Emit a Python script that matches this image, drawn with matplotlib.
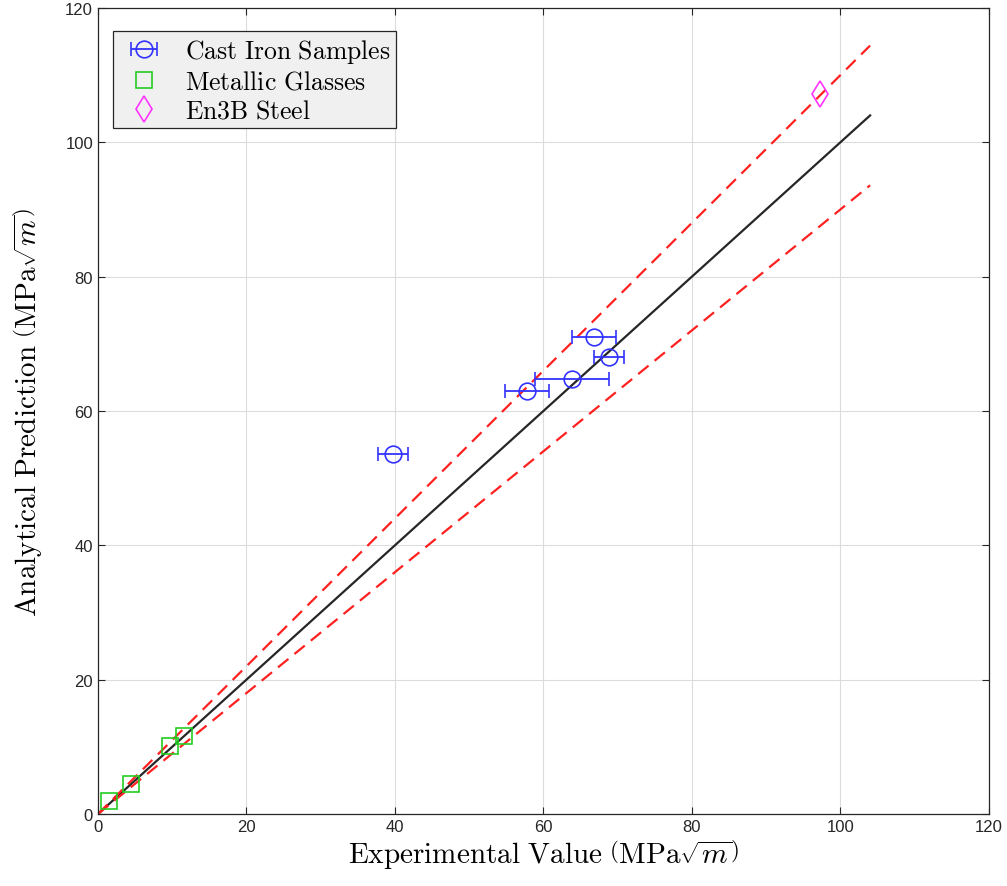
import matplotlib
matplotlib.use("Agg")
import matplotlib.pyplot as plt
import numpy as np

plt.rcParams['mathtext.fontset'] = 'cm'
plt.rcParams['font.family'] = ['Liberation Sans', 'DejaVu Sans']

# Data
cast_x = [39.7, 57.8, 63.8, 66.8, 68.8]
cast_y = [53.6, 63.0, 64.8, 71.0, 68.0]
cast_xerr = [2.0, 3.0, 5.0, 3.0, 2.0]
glass_x = [1.5, 4.4, 9.7, 11.6]
glass_y = [1.9, 4.5, 10.1, 11.6]
steel_x = [97.2]
steel_y = [107.2]
line_max = 104
band = 0.10

fig = plt.figure(figsize=(10.07, 8.87), dpi=100)
ax = fig.add_axes([0.0973, 0.0812, 0.982 - 0.0973, 0.9899 - 0.0812])

xl = np.array([0, line_max])
ax.plot(xl, xl, color='#262626', lw=1.6, zorder=2)
ax.plot(xl, (1 + band) * xl, color='#ff2020', lw=1.6, ls=(0, (6, 3.5)), zorder=2)
ax.plot(xl, (1 - band) * xl, color='#ff2020', lw=1.6, ls=(0, (6, 3.5)), zorder=2)

h1 = ax.errorbar(cast_x, cast_y, xerr=cast_xerr, fmt='o', color='#3333ff', mfc='none',
                 ms=12, mew=1.2, elinewidth=1.3, capsize=5, capthick=1.3, zorder=3)
h2, = ax.plot(glass_x, glass_y, 's', color='#22cc22', mfc='none', ms=11.5, mew=1.2, zorder=3)
h3, = ax.plot(steel_x, steel_y, 'd', color='#ff33ff', mfc='none', ms=13, mew=1.2, zorder=3)

ax.set_xlim(0, 120)
ax.set_ylim(0, 120)
ax.set_xticks(np.arange(0, 121, 20))
ax.set_yticks(np.arange(0, 121, 20))
ax.grid(True, color='#dcdcdc', lw=0.8)
ax.set_axisbelow(True)
ax.tick_params(direction='in', length=5, top=True, right=True, labelsize=12,
               colors='#262626', labelcolor='#262626')
for s in ax.spines.values():
    s.set_color('#262626')
    s.set_linewidth(0.9)

ax.set_xlabel(r'$\mathrm{Experimental\ Value\ }\left(\mathrm{MPa}\sqrt{m}\right)$',
              fontsize=21, labelpad=2)
ax.set_ylabel(r'$\mathrm{Analytical\ Prediction\ }\left(\mathrm{MPa}\sqrt{m}\right)$',
              fontsize=21, labelpad=15)

leg = ax.legend([h1, h2, h3],
                [r'$\mathrm{Cast\ Iron\ Samples}$', r'$\mathrm{Metallic\ Glasses}$',
                 r'$\mathrm{En3B\ Steel}$'],
                loc='upper left', fontsize=18.5, frameon=True, fancybox=False,
                facecolor='#f0f0f0', edgecolor='#262626', framealpha=1,
                bbox_to_anchor=(0.0, 0.99), borderaxespad=0.6,
                handletextpad=0.6, labelspacing=0.2, borderpad=0.2)
leg.get_frame().set_linewidth(0.9)

fig.savefig('out.png', dpi=100)
